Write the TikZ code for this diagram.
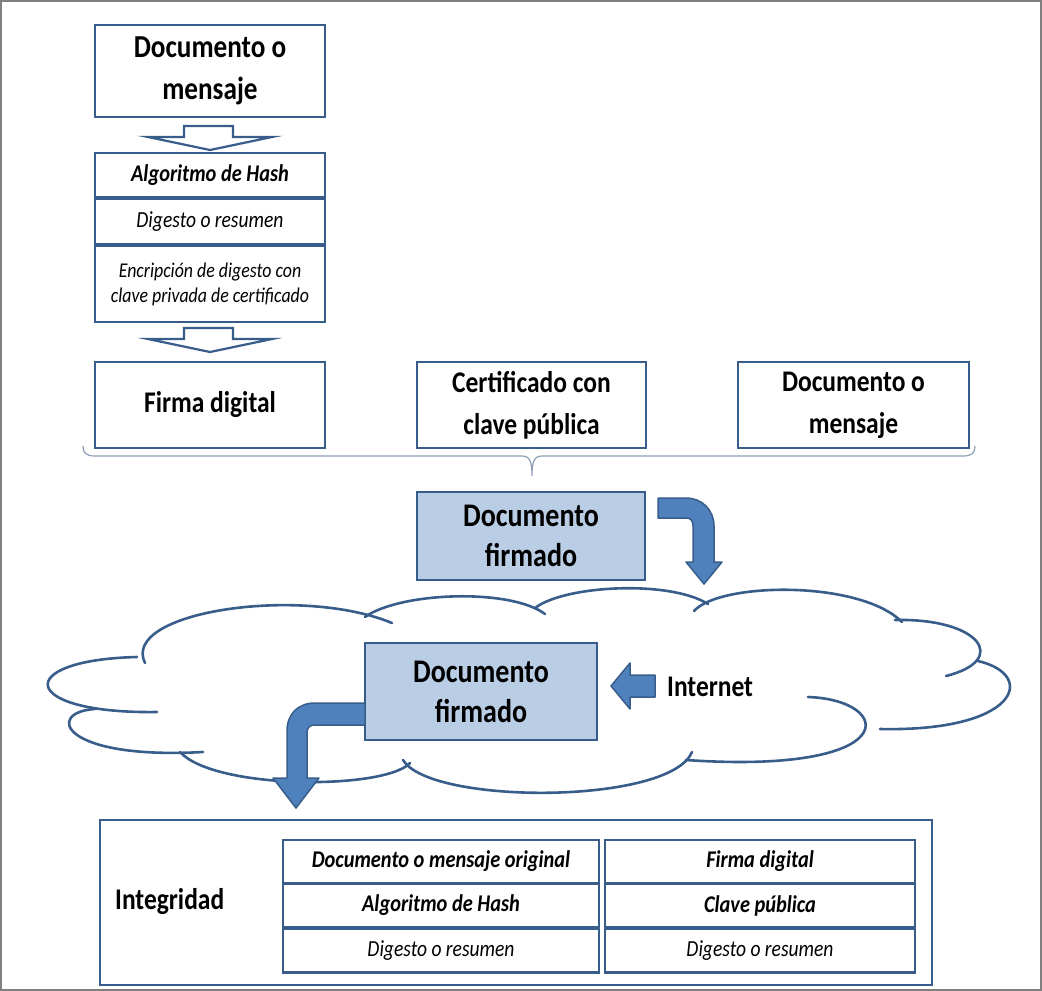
\documentclass[tikz,border=0pt]{standalone}
\usepackage{fontspec}
\setmainfont{Carlito}[FakeStretch=0.85]
\definecolor{bd}{HTML}{385D8A}
\definecolor{lb}{HTML}{B9CDE5}
\definecolor{ac}{HTML}{4F81BD}
\definecolor{brc}{HTML}{8C9DB5}
\begin{document}
\begin{tikzpicture}[x=1pt,y=-1pt,
  box/.style={draw=bd, line width=2.8pt, fill=white, align=center, inner sep=0pt},
  sbox/.style={box, fill=lb},
  bigtxt/.style={font=\fontsize{32}{42}\selectfont\bfseries},
  rowtxt/.style={font=\fontsize{30}{42}\selectfont\bfseries},
  bitxt/.style={font=\fontsize{24}{27}\selectfont\bfseries\itshape},
  itxt/.style={font=\fontsize{23}{27}\selectfont\itshape},
  blockarrow/.style={draw=bd, line width=1.5pt, fill=ac, line join=round},
  hollow/.style={draw=bd, line width=2.2pt, fill=white, line join=miter},
  cloudline/.style={draw=bd, line width=2.6pt, line cap=round}]
\useasboundingbox (0,0) rectangle (1042,991);
\draw[gray, line width=1.5pt] (1,1) rectangle (1041,990);

% cloud
\draw[cloudline] (157,712) .. controls (18,714) and (12,660) .. (137,657);
\draw[cloudline] (145,663) .. controls (120,612) and (300,585) .. (392,623);
\draw[cloudline] (365,617) .. controls (400,592) and (510,588) .. (545,614);
\draw[cloudline] (535,608) .. controls (565,585) and (670,580) .. (708,604);
\draw[cloudline] (694,611) .. controls (720,582) and (860,580) .. (902,622);
\draw[cloudline] (895,620) .. controls (980,618) and (1010,660) .. (946,676);
\draw[cloudline] (978,661) .. controls (1038,675) and (1018,732) .. (880,729);
\draw[cloudline] (808,697) .. controls (895,700) and (905,775) .. (686,760);
\draw[cloudline] (692,752) .. controls (670,805) and (430,805) .. (403,760);
\draw[cloudline] (410,763) .. controls (385,790) and (215,790) .. (180,752);
\draw[cloudline] (203,752) .. controls (60,760) and (45,712) .. (95,709);

% top stack
\node[box, bigtxt, minimum width=230pt, minimum height=92pt] (docmsg) at (210,71) {Documento o\\mensaje};
\draw[hollow] (184,126) -- (233,126) -- (233,137) -- (272,137) -- (210,150) -- (148,137) -- (184,137) -- cycle;
\node[box, bitxt, minimum width=230pt, minimum height=44pt] (alg) at (210,175) {Algoritmo de Hash};
\node[box, itxt, minimum width=230pt, minimum height=45pt] (dig) at (210,221.5) {Digesto o resumen};
\node[box, font=\fontsize{21}{25}\selectfont\itshape, minimum width=230pt, minimum height=76pt] (enc) at (210,284) {Encripción de digesto con\\clave privada de certificado};
\draw[hollow] (184,328) -- (233,328) -- (233,339) -- (272,339) -- (210,352) -- (148,339) -- (184,339) -- cycle;

% row of three
\node[box, rowtxt, minimum width=230pt, minimum height=86pt] (firma) at (210,405) {Firma digital};
\node[box, rowtxt, minimum width=229pt, minimum height=86pt] (cert) at (531.5,405) {Certificado con\\clave pública};
\node[box, rowtxt, minimum width=231pt, minimum height=86pt] (docmsg2) at (853.5,405) {Documento o\\mensaje};

% brace
\draw[brc, line width=1.2pt] (83,446) .. controls (83,453) and (86,456) .. (95,456) -- (522,456)
  .. controls (530,456) and (532,462) .. (532,476) .. controls (532,462) and (534,456) .. (542,456)
  -- (963,456) .. controls (972,456) and (975,453) .. (975,446);

% signed document
\node[sbox, font=\fontsize{33}{40}\selectfont\bfseries, minimum width=228pt, minimum height=88pt] (firm1) at (531,536) {Documento\\firmado};
\draw[blockarrow] (658,498) -- (686,498) .. controls (702,498) and (714,510) .. (714,526) -- (714,562)
  -- (722,562) -- (704,584) -- (686,562) -- (693,562) -- (693,526)
  .. controls (693,521) and (691,518) .. (686,518) -- (658,518) -- cycle;

% inside cloud
\node[sbox, font=\fontsize{33}{40}\selectfont\bfseries, minimum width=232pt, minimum height=97pt] (firm2) at (481,691.5) {Documento\\firmado};
\draw[blockarrow] (655,675) -- (630,675) -- (630,663) -- (611,686) -- (630,709) -- (630,697) -- (655,697) -- cycle;
\node[anchor=west, font=\fontsize{30}{32}\selectfont\bfseries, inner sep=0pt] (inet) at (667,687) {Internet};
\draw[blockarrow] (365,703) -- (315,703) .. controls (298,703) and (287,714) .. (287,731) -- (287,778)
  -- (273,778) -- (296,808) -- (319,778) -- (307,778) -- (307,732)
  .. controls (307,728) and (310,725) .. (314,725) -- (365,725) -- cycle;

% bottom box
\node[box, minimum width=832pt, minimum height=165pt] (integ) at (516,902.5) {};
\node[anchor=west, font=\fontsize{30}{32}\selectfont\bfseries, inner sep=0pt] (intlbl) at (115,902) {Integridad};
\node[box, bitxt, minimum width=316pt, minimum height=43pt] (l1) at (441,861.5) {Documento o mensaje original};
\node[box, bitxt, minimum width=316pt, minimum height=44pt] (l2) at (441,905.5) {Algoritmo de Hash};
\node[box, itxt, minimum width=316pt, minimum height=44pt] (l3) at (441,950.5) {Digesto o resumen};
\node[box, bitxt, minimum width=310pt, minimum height=43pt] (r1) at (760,861.5) {Firma digital};
\node[box, bitxt, minimum width=310pt, minimum height=44pt] (r2) at (760,905.5) {Clave pública};
\node[box, itxt, minimum width=310pt, minimum height=44pt] (r3) at (760,950.5) {Digesto o resumen};
\end{tikzpicture}
\end{document}
